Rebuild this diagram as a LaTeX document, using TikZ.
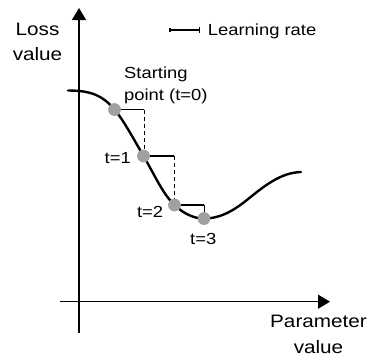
\documentclass[tikz,border=0pt]{standalone}
\usepackage{fontspec}
\setmainfont{Liberation Sans}[FakeStretch=1.15]
\usetikzlibrary{arrows.meta}
\definecolor{dotgray}{RGB}{160,160,160}
\tikzset{
  axis/.style={line width=1.3pt,-{Triangle[length=12pt,width=14pt]}},
  curve/.style={line width=2.4pt,line cap=round},
  stepline/.style={line width=1.1pt},
  stepdash/.style={line width=1.1pt,dash pattern=on 4pt off 3pt},
  dot/.style={circle,fill=dotgray,draw=none,inner sep=0pt,minimum size=12.5pt},
  biglabel/.style={font=\fontsize{18}{25.5}\selectfont,inner sep=0pt},
  smalllabel/.style={font=\fontsize{16}{22}\selectfont,inner sep=0pt},
}
\begin{document}
\begin{tikzpicture}[x=1pt,y=-1pt]
\useasboundingbox (0,0) rectangle (369,357);
% axes
\coordinate (ybot) at (79,333);
\coordinate (ytop) at (79,8);
\coordinate (xleft) at (60,301.7);
\coordinate (xright) at (330,301.7);
\draw[axis] (ybot) -- (ytop);
\draw[axis] (xleft) -- (xright);
% dots positions
\coordinate (q0) at (114.5,109.5);
\coordinate (q1) at (143.5,156);
\coordinate (q2) at (174.5,205);
\coordinate (q3) at (204,218.5);
% curve
\draw[curve] (68,90.5) .. controls (92,90.5) and (103,96) .. (q0)
  .. controls (124,120.6) and (136,143.3) .. (q1)
  .. controls (155,175.5) and (162.5,193.6) .. (q2)
  .. controls (184,214) and (194,218.5) .. (q3)
  .. controls (222,218.5) and (236,209) .. (250,197.5)
  .. controls (266,184.5) and (282,172.5) .. (301,172);
% step corners
\coordinate (c0) at (144.3,109.5);
\coordinate (c1) at (174.3,156);
\coordinate (c2) at (204.3,205);
\node[dot] (p0) at (q0) {};
\node[dot] (p1) at (q1) {};
\node[dot] (p2) at (q2) {};
\node[dot] (p3) at (q3) {};
\draw[stepline] (p0.east) -- (c0);
\draw[stepdash] (c0) -- (p1.north -| c0);
\draw[stepline] (p1.east) -- (c1);
\draw[stepdash] (c1) -- (p2.north -| c1);
\draw[stepline] (p2.east) -- (c2);
\draw[stepline] (c2) -- (p3.north -| c2);
% dots on top of the step lines
\node[dot] at (p0) {};
\node[dot] at (p1) {};
\node[dot] at (p2) {};
\node[dot] at (p3) {};
% legend
\coordinate (la) at (170,30);
\coordinate (lb) at (199.3,30);
\draw[stepline] (la) -- (lb);
\draw[stepline] ([yshift=-3pt]lb) -- ([yshift=3pt]lb);
\draw[stepline] ([yshift=-2pt]la) -- ([yshift=2pt]la);
\node[smalllabel,anchor=base west] (lr) at (207.7,35.7) {Learning rate};
% labels
\node[biglabel,align=center,anchor=north] (loss) at (37.5,22.8) {Loss\\value};
\node[biglabel,align=center,anchor=north] (param) at (318.5,315.4) {Parameter\\value};
\node[smalllabel,align=left,anchor=north west] (start) at (124,66.3) {Starting\\point (t=0)};
\node[smalllabel,anchor=base east] (t1) at (131,163) {t=1};
\node[smalllabel,anchor=base east] (t2) at (163.3,217.3) {t=2};
\node[smalllabel,anchor=base west] (t3) at (190,244) {t=3};
\end{tikzpicture}
\end{document}
